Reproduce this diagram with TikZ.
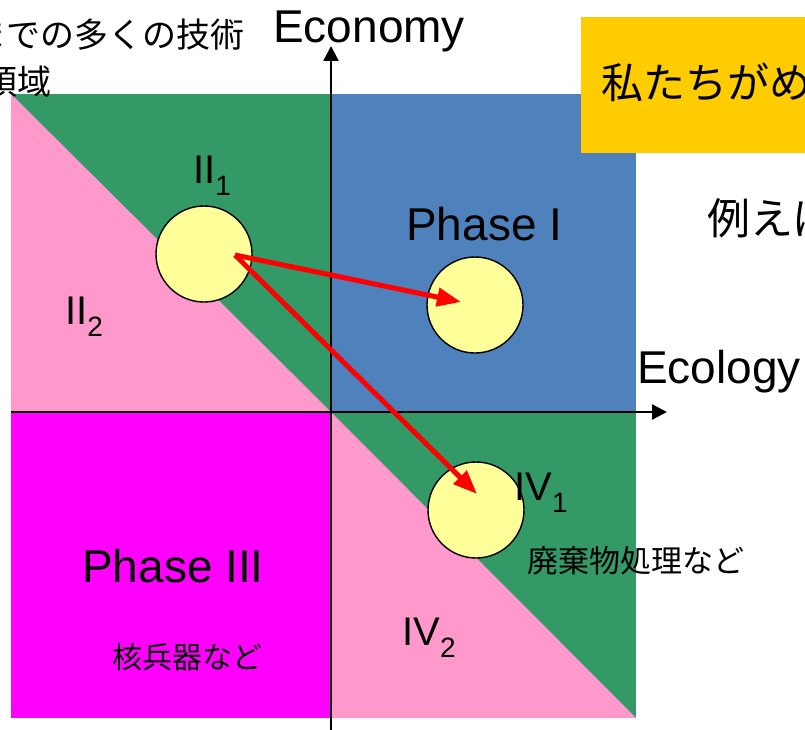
\documentclass[tikz,border=0pt]{standalone}
\usepackage{fontspec}
\setmainfont{Liberation Sans}
\newfontfamily\jp{Noto Sans CJK JP}
\usetikzlibrary{arrows.meta}
\definecolor{qgreen}{HTML}{339966}
\definecolor{qpink}{HTML}{FF99CC}
\definecolor{qblue}{HTML}{4F81BD}
\definecolor{qmag}{HTML}{FF00FF}
\definecolor{qyel}{HTML}{FFCC00}
\definecolor{cyel}{HTML}{FFFF99}
\newcommand{\fs}[1]{\fontsize{#1}{#1}\selectfont}
\newcommand{\lab}[2]{{\fs{40}#1}\raisebox{-12pt}{\fs{28}#2}}
\tikzset{
  big/.style={anchor=base west, inner sep=0pt, font=\fs{46}},
  sub/.style={anchor=base west, inner sep=0pt},
  jtext/.style={inner sep=0pt, font=\jp\fs{31}},
  blob/.style={circle, draw=black, line width=1.4pt, fill=cyel, minimum size=96pt, inner sep=0pt},
  redarrow/.style={draw=red, line width=5pt, -{Triangle[length=24pt,width=18pt]}, shorten >=0pt},
  axis/.style={line width=2.4pt, -{Triangle[length=15pt,width=15pt]}}
}
\begin{document}
\begin{tikzpicture}[x=1pt,y=-1pt]
\useasboundingbox (0,0) rectangle (805,730);
% quadrants
\fill[qgreen] (11,94) rectangle (331,412);
\fill[qpink] (11,94) -- (331,412) -- (11,412) -- cycle;
\fill[qblue] (331,94) rectangle (636,412);
\fill[qmag] (11,412) rectangle (331,718);
\fill[qgreen] (331,412) rectangle (636,718);
\fill[qpink] (331,412) -- (636,718) -- (331,718) -- cycle;
% axes
\coordinate (xl) at (11,412);
\coordinate (xr) at (667,412);
\coordinate (yb) at (331,730);
\coordinate (yt) at (331,46);
\draw[axis] (xl) -- (xr);
\draw[axis] (yb) -- (yt);
% circles
\node[blob] (c1) at (204,254) {};
\node[blob] (c2) at (475,305) {};
\node[blob] (c3) at (476,510) {};
% arrows
\coordinate (s) at (235,255);
\coordinate (t1) at (461,302);
\coordinate (t2) at (477,494);
\draw[redarrow] (s) -- (t1);
\draw[redarrow] (s) -- (t2);
% labels
\node[big] (economy) at (273,43) {Economy};
\node[big] (ecology) at (637,383) {Ecology};
\node[big] (p1) at (406,240) {Phase I};
\node[big] (p3) at (82,582) {Phase III};
\node[sub] (ii1) at (193,183) {\lab{II}{1}};
\node[sub] (ii2) at (65,324) {\lab{II}{2}};
\node[sub] (iv1) at (514,500) {\lab{IV}{1}};
\node[sub] (iv2) at (402,645) {\lab{IV}{2}};
\node[jtext, anchor=base west] (haiki) at (527,572) {廃棄物処理など};
\node[jtext, anchor=base west, font=\jp\fs{30}] (kaku) at (112,668) {核兵器など};
\node[jtext, anchor=base east, font=\jp\fs{34}] (tl1) at (245,48) {までの多くの技術};
\node[jtext, anchor=base east, font=\jp\fs{34}] (tl2) at (52,95) {領域};
% yellow box
\node[fill=qyel, inner sep=0pt, minimum width=260pt, minimum height=136pt, anchor=north west] (ybox) at (581,17) {};
\node[jtext, anchor=base west, font=\jp\fs{42}] (watashi) at (601,99) {私たちがめざす};
\node[jtext, anchor=base west, font=\jp\fs{43}] (tatoe) at (707,234) {例えば};
\end{tikzpicture}
\end{document}
